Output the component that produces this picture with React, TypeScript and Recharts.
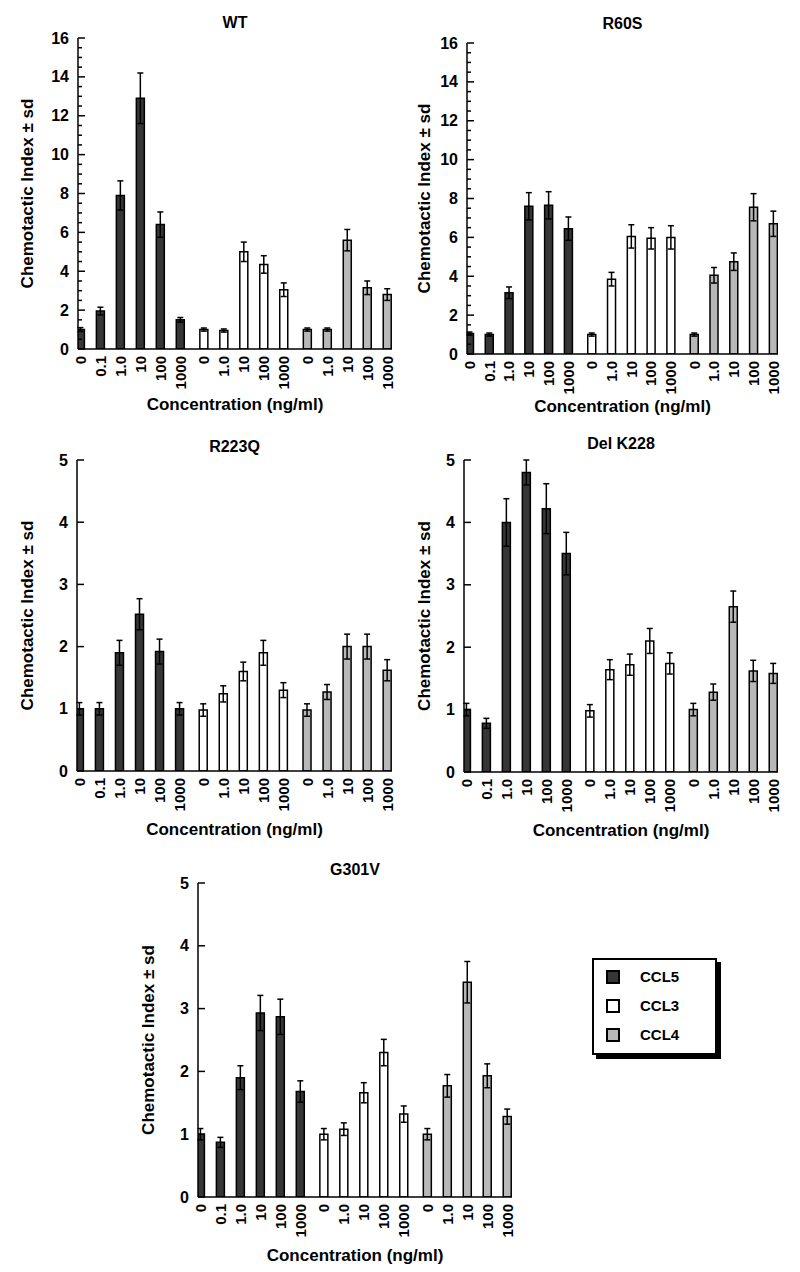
import React from 'react';
import { BarChart, Bar, XAxis, YAxis, ErrorBar, Cell } from 'recharts';

// chemokines and the doses tested for each one (ng/ml)
const chemokines = ['CCL5', 'CCL3', 'CCL4'];
const ccl5Doses = ['0', '0.1', '1.0', '10', '100', '1000'];
const ccl3Doses = ['0', '1.0', '10', '100', '1000'];
const ccl4Doses = ['0', '1.0', '10', '100', '1000'];

const panelTitles = ['WT', 'R60S', 'R223Q', 'Del K228', 'G301V'];

// chemotactic index, CCL5 doses then CCL3 then CCL4
const wtMean = [1.0, 1.95, 7.9, 12.9, 6.4, 1.5, 1.0, 0.95, 5.0, 4.35, 3.05, 1.0, 1.0, 5.6, 3.15, 2.8];
const wtSd = [0.1, 0.2, 0.75, 1.3, 0.65, 0.12, 0.08, 0.08, 0.5, 0.45, 0.35, 0.08, 0.08, 0.55, 0.35, 0.3];

const r60sMean = [1.05, 1.0, 3.15, 7.6, 7.65, 6.45, 1.0, 3.85, 6.05, 5.95, 6.0, 1.0, 4.05, 4.75, 7.55, 6.7];
const r60sSd = [0.08, 0.08, 0.3, 0.7, 0.7, 0.6, 0.08, 0.35, 0.6, 0.55, 0.6, 0.08, 0.4, 0.45, 0.7, 0.65];

const r223qMean = [1.0, 1.0, 1.9, 2.52, 1.92, 1.0, 0.98, 1.24, 1.6, 1.9, 1.3, 0.98, 1.27, 2.0, 2.0, 1.62];
const r223qSd = [0.1, 0.1, 0.2, 0.25, 0.2, 0.1, 0.1, 0.13, 0.15, 0.2, 0.12, 0.1, 0.12, 0.2, 0.2, 0.17];

const delK228Mean = [1.0, 0.78, 4.0, 4.8, 4.22, 3.5, 0.98, 1.64, 1.72, 2.1, 1.74, 1.0, 1.28, 2.65, 1.62, 1.58];
const delK228Sd = [0.1, 0.08, 0.38, 0.2, 0.4, 0.34, 0.1, 0.16, 0.17, 0.2, 0.17, 0.1, 0.13, 0.25, 0.17, 0.16];

const g301vMean = [1.0, 0.87, 1.9, 2.93, 2.87, 1.68, 1.0, 1.08, 1.66, 2.3, 1.32, 1.0, 1.77, 3.42, 1.93, 1.28];
const g301vSd = [0.09, 0.08, 0.19, 0.28, 0.28, 0.17, 0.09, 0.1, 0.16, 0.21, 0.13, 0.09, 0.18, 0.33, 0.19, 0.12];

const highTicks = [0, 2, 4, 6, 8, 10, 12, 14, 16];
const lowTicks = [0, 1, 2, 3, 4, 5];

const fills: Record<string, string> = { CCL5: '#363636', CCL3: '#ffffff', CCL4: '#b8b8b8' };

const FONT = '"Liberation Sans", Arial, Helvetica, sans-serif';
const xTickFont = { fontFamily: FONT, fontWeight: 700, fontSize: 15, fill: '#000' };
const yTickFont = { fontFamily: FONT, fontWeight: 700, fontSize: 16, fill: '#000' };
const labelFont = { fontFamily: FONT, fontWeight: 700, fontSize: 17, fill: '#000' };

const Y_AXIS_W = 78;
const X_AXIS_H = 72;
const TOP_PAD = 20;
const RIGHT_PAD = 8;
const GROUP_GAP = 0.18;
const X_DOMAIN: [number, number] = [-0.12, 15.6];

const doseGroups = [ccl5Doses, ccl3Doses, ccl4Doses];

function buildRows(mean: number[], sd: number[]) {
    const rows: any[] = [];
    let i = 0;
    doseGroups.forEach((doses, g) => {
        doses.forEach((dose) => {
            rows.push({ pos: i + g * GROUP_GAP, dose, chemokine: chemokines[g], mean: mean[i], sd: sd[i] });
            i++;
        });
    });
    return rows;
}

// split every major interval in four for the small inner ticks
function withMinor(major: number[], parts: number) {
    const out: number[] = [];
    for (let i = 0; i < major.length - 1; i++) {
        const step = (major[i + 1] - major[i]) / parts;
        for (let k = 0; k < parts; k++) out.push(major[i] + k * step);
    }
    out.push(major[major.length - 1]);
    return out;
}

// small marks along the x axis, 16 even bins
const span = X_DOMAIN[1] - X_DOMAIN[0];
const axisMarks = Array.from({ length: 16 }, (_, k) => X_DOMAIN[0] + ((k + 1) * span) / 16);

const panels = [
    { mean: wtMean, sd: wtSd, yTicks: highTicks, minor: true, left: 78, top: 38, right: 392, bottom: 349, titleY: 22.5, yLabelX: 27, xLabelY: 410 },
    { mean: r60sMean, sd: r60sSd, yTicks: highTicks, minor: true, left: 467, top: 43, right: 778, bottom: 354, titleY: 24, yLabelX: 424, xLabelY: 412 },
    { mean: r223qMean, sd: r223qSd, yTicks: lowTicks, minor: false, left: 77, top: 460, right: 392, bottom: 771, titleY: 447, yLabelX: 27, xLabelY: 835 },
    { mean: delK228Mean, sd: delK228Sd, yTicks: lowTicks, minor: false, left: 464, top: 460, right: 778, bottom: 772, titleY: 444, yLabelX: 424, xLabelY: 836 },
    { mean: g301vMean, sd: g301vSd, yTicks: lowTicks, minor: false, left: 198, top: 883, right: 512, bottom: 1197, titleY: 870, yLabelX: 148, xLabelY: 1261 },
];

const DoseTick = (props: any) => {
    const { x, y, payload, rows } = props;
    const row = rows.find((r: any) => Math.abs(r.pos - payload.value) < 1e-6);
    const ty = y + 7;
    return (
        <text x={x} y={ty} transform={`rotate(-90, ${x}, ${ty})`} textAnchor="end" dominantBaseline="central" style={xTickFont}>
            {row ? row.dose : ''}
        </text>
    );
};

const ValueTick = (props: any) => {
    const { x, y, payload, majors } = props;
    const isMajor = majors.includes(payload.value);
    return (
        <g>
            <line x1={x} x2={x + (isMajor ? 7 : 4)} y1={y} y2={y} stroke="#000" strokeWidth={1.5} />
            {isMajor && (
                <text x={x - 9} y={y} textAnchor="end" dominantBaseline="central" style={yTickFont}>
                    {payload.value}
                </text>
            )}
        </g>
    );
};

const Panel = ({ cfg, title }: { cfg: any; title: string }) => {
    const rows = buildRows(cfg.mean, cfg.sd);
    const positions = rows.map((r) => r.pos);
    const chartLeft = cfg.left - Y_AXIS_W;
    const chartTop = cfg.top - TOP_PAD;
    const width = cfg.right - chartLeft + RIGHT_PAD;
    const height = cfg.bottom - chartTop + X_AXIS_H;
    const yMax = cfg.yTicks[cfg.yTicks.length - 1];
    const yAll = cfg.minor ? withMinor(cfg.yTicks, 4) : cfg.yTicks;
    const plotCenter = (cfg.left + cfg.right) / 2 - chartLeft;

    return (
        <div style={{ position: 'absolute', left: chartLeft, top: chartTop, width, height }}>
            <div style={{
                position: 'absolute',
                left: plotCenter - 100,
                width: 200,
                top: cfg.titleY - chartTop - 10,
                lineHeight: '20px',
                textAlign: 'center',
                fontFamily: FONT,
                fontWeight: 700,
                fontSize: 16,
                color: '#000'
            }}>{title}</div>
            <BarChart
                width={width}
                height={height}
                data={rows}
                margin={{ top: TOP_PAD, right: RIGHT_PAD, left: 0, bottom: 0 }}
            >
                <XAxis
                    xAxisId="marks"
                    type="number"
                    dataKey="pos"
                    domain={X_DOMAIN}
                    ticks={axisMarks}
                    interval={0}
                    mirror
                    height={0}
                    axisLine={false}
                    tick={false}
                    tickSize={4}
                    tickLine={{ stroke: '#000', strokeWidth: 1.5 }}
                    allowDataOverflow
                />
                <XAxis
                    xAxisId="dose"
                    type="number"
                    dataKey="pos"
                    domain={X_DOMAIN}
                    ticks={positions}
                    interval={0}
                    height={X_AXIS_H}
                    tickSize={0}
                    tickMargin={0}
                    tickLine={false}
                    axisLine={{ stroke: '#000', strokeWidth: 1.5 }}
                    tick={(p: any) => <DoseTick {...p} rows={rows} />}
                    label={{
                        value: 'Concentration (ng/ml)',
                        position: 'insideBottom',
                        offset: cfg.bottom + X_AXIS_H - cfg.xLabelY,
                        style: labelFont,
                        fill: '#000'
                    }}
                    allowDataOverflow
                />
                <YAxis
                    type="number"
                    domain={[0, yMax]}
                    ticks={yAll}
                    interval={0}
                    width={Y_AXIS_W}
                    tickSize={0}
                    tickMargin={0}
                    tickLine={false}
                    axisLine={{ stroke: '#000', strokeWidth: 1.5 }}
                    tick={(p: any) => <ValueTick {...p} majors={cfg.yTicks} />}
                    label={{
                        value: 'Chemotactic Index ± sd',
                        angle: -90,
                        position: 'insideLeft',
                        offset: cfg.yLabelX - chartLeft,
                        style: { ...labelFont, textAnchor: 'middle' },
                        fill: '#000'
                    }}
                    allowDataOverflow
                />
                <Bar
                    xAxisId="dose"
                    dataKey="mean"
                    barSize={8}
                    stroke="#000"
                    strokeWidth={1.5}
                    isAnimationActive={false}
                >
                    {rows.map((r, i) => (
                        <Cell key={i} fill={fills[r.chemokine]} />
                    ))}
                    <ErrorBar dataKey="sd" width={3} strokeWidth={1.5} stroke="#000" />
                </Bar>
            </BarChart>
        </div>
    );
};

const LegendBox = () => (
    <div style={{
        position: 'absolute',
        left: 592,
        top: 958,
        width: 121,
        height: 93,
        border: '2px solid #000',
        boxShadow: '4px 4px 0 #000',
        background: '#fff'
    }}>
        {chemokines.map((c, i) => (
            <div key={c} style={{ position: 'absolute', left: 0, top: 17 + i * 29, width: '100%' }}>
                <span style={{
                    position: 'absolute',
                    left: 12,
                    top: -7,
                    width: 10,
                    height: 10,
                    border: '2px solid #000',
                    background: fills[c]
                }} />
                <span style={{
                    position: 'absolute',
                    left: 46,
                    top: -9,
                    lineHeight: '18px',
                    fontFamily: FONT,
                    fontWeight: 700,
                    fontSize: 15,
                    color: '#000'
                }}>{c}</span>
            </div>
        ))}
    </div>
);

const App = () => {
    return (
        <div style={{ position: 'absolute', left: 0, top: 0, width: 800, height: 1272, background: '#fff' }}>
            {panels.map((cfg, i) => (
                <Panel key={panelTitles[i]} cfg={cfg} title={panelTitles[i]} />
            ))}
            <LegendBox />
        </div>
    );
};

export default App;
